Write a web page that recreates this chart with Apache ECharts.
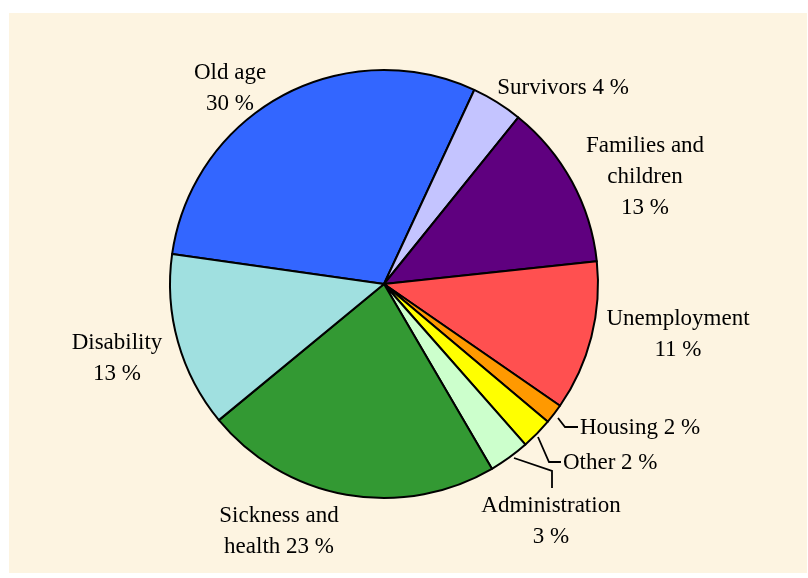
<!DOCTYPE html>
<html>
<head>
<meta charset="utf-8">
<script src="https://cdn.jsdelivr.net/npm/echarts@6/dist/echarts.min.js"></script>
<style>
  html, body { margin: 0; padding: 0; background: #ffffff; }
  #chart { width: 808px; height: 578px; }
</style>
</head>
<body>
<div id="chart"></div>
<script>
// Social protection benefits by function, share of total (%)
const categories = ['Old age', 'Survivors', 'Families and\nchildren', 'Unemployment',
                    'Housing', 'Other', 'Administration', 'Sickness and\nhealth', 'Disability'];
const shares = [29.9, 3.9, 12.6, 11.4, 1.5, 2.4, 3.1, 22.6, 13.3];
// text joining each name and its value in the label
const valueBreaks = ['\n', ' ', '\n', '\n', ' ', ' ', '\n', ' ', '\n'];
const sliceColors = ['#3366FF', '#C4C4FF', '#5F007F', '#FF5050', '#FF9900',
                     '#FFFF00', '#CCFFCC', '#339933', '#A0E0E0'];

// where each label sits, and the leader line for the small slices
const labelSpots = [
  { x: 230, y: 88,  align: 'center' },
  { x: 563, y: 88,  align: 'center' },
  { x: 645, y: 177, align: 'center' },
  { x: 678, y: 334, align: 'center' },
  { x: 580, y: 428, align: 'left', line: [[558, 418], [565, 427], [578, 427]] },
  { x: 563, y: 463, align: 'left', line: [[538, 437], [549, 462], [561, 462]] },
  { x: 551, y: 521, align: 'center', line: [[514, 458], [552, 471], [552, 488]] },
  { x: 279, y: 531, align: 'center' },
  { x: 117, y: 358, align: 'center' }
];

const chart = echarts.init(document.getElementById('chart'), null, { renderer: 'canvas' });

const pieData = categories.map((name, i) => ({
  name: name,
  value: shares[i],
  itemStyle: { color: sliceColors[i] },
  labelLine: { show: !!labelSpots[i].line }
}));

chart.setOption({
  animation: false,
  backgroundColor: '#ffffff',
  graphic: [{
    type: 'rect',
    z: -10,
    shape: { x: 9, y: 13, width: 798, height: 560 },
    style: { fill: '#FDF4E1' }
  }],
  series: [{
    type: 'pie',
    center: [384, 284],
    radius: 214,
    startAngle: 171.95,
    clockwise: true,
    avoidLabelOverlap: false,
    data: pieData,
    itemStyle: { borderColor: '#000000', borderWidth: 2 },
    emphasis: { disabled: true },
    label: {
      show: true,
      position: 'outside',
      color: '#000000',
      fontFamily: 'Liberation Serif, Times New Roman, serif',
      fontSize: 23,
      lineHeight: 31,
      align: 'center',
      formatter: (p) => p.name + valueBreaks[p.dataIndex] + Math.round(p.value) + ' %'
    },
    labelLine: {
      show: true,
      lineStyle: { color: '#000000', width: 1.8 }
    },
    labelLayout: (p) => {
      const s = labelSpots[p.dataIndex];
      const out = { x: s.x, y: s.y, align: s.align, verticalAlign: 'middle', hideOverlap: false };
      if (s.line) out.labelLinePoints = s.line;
      return out;
    }
  }]
});
</script>
</body>
</html>
